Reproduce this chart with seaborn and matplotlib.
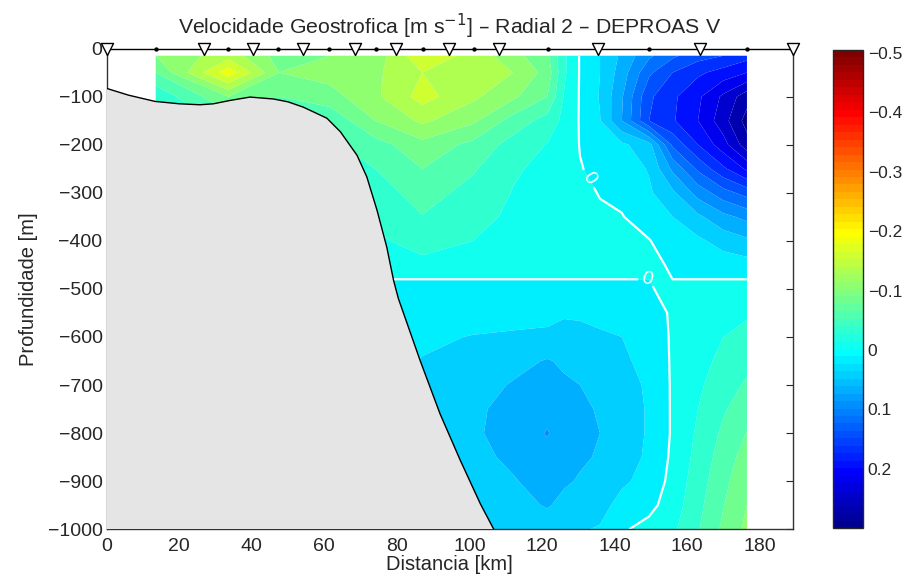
import numpy as np
import matplotlib
matplotlib.use("Agg")
import matplotlib.pyplot as plt
from matplotlib.colors import ListedColormap, Normalize
from matplotlib.cm import ScalarMappable
import seaborn as sns
import pandas as pd

sns.set_style("white")
plt.rcParams['font.family'] = ['Liberation Sans', 'DejaVu Sans']
plt.rcParams['axes.unicode_minus'] = True

# ---------------- data ----------------
stations_km = [0, 26.9, 40.2, 54.2, 68.5, 79.8, 94.3, 108.1, 135.3, 163.6, 189.2]
midpoints_km = [13.5, 33.5, 47.2, 61.4, 74.2, 87.1, 101.2, 121.7, 149.5, 176.4]

depths = [-15, -50, -100, -150, -200, -250, -300, -350, -400, -450, -480,
          -550, -600, -650, -700, -750, -800, -850, -900, -950, -1000]
grid_km = [13.5, 33.5, 47.5, 61.5, 74, 87, 101, 112, 121.5, 126, 130.5,
           136, 142, 149.5, 156, 163, 170, 176.5]

# velocity profiles (m/s) at each grid distance, ordered as `depths`
v_13_5 = [-0.10, -0.075, -0.03, -0.02, -0.02, -0.02, -0.02, -0.02, -0.02, -0.01, 0.0,
          0.01, 0.01, 0.01, 0.01, 0.01, 0.01, 0.01, 0.01, 0.01, 0.01]
v_33_5 = [-0.14, -0.19, -0.10, -0.06, -0.05, -0.04, -0.035, -0.03, -0.025, -0.012, 0.0,
          0.01, 0.01, 0.01, 0.01, 0.01, 0.01, 0.01, 0.01, 0.01, 0.01]
v_47_5 = [-0.09, -0.10, -0.075, -0.06, -0.05, -0.045, -0.04, -0.035, -0.028, -0.014, 0.0,
          0.01, 0.01, 0.01, 0.01, 0.01, 0.01, 0.01, 0.01, 0.01, 0.01]
v_61_5 = [-0.10, -0.11, -0.09, -0.055, -0.045, -0.04, -0.034, -0.028, -0.022, -0.011, 0.0,
          0.007, 0.009, 0.01, 0.01, 0.01, 0.01, 0.01, 0.01, 0.01, 0.01]
v_74 = [-0.11, -0.12, -0.12, -0.10, -0.065, -0.05, -0.038, -0.03, -0.021, -0.01, 0.0,
        0.007, 0.01, 0.012, 0.014, 0.015, 0.015, 0.015, 0.015, 0.015, 0.015]
v_87 = [-0.17, -0.15, -0.16, -0.13, -0.092, -0.075, -0.061, -0.049, -0.034, -0.019, 0.0,
        0.013, 0.021, 0.026, 0.029, 0.031, 0.032, 0.032, 0.031, 0.029, 0.027]
v_101 = [-0.14, -0.14, -0.13, -0.105, -0.068, -0.053, -0.041, -0.032, -0.025, -0.014, 0.0,
         0.015, 0.026, 0.033, 0.04, 0.046, 0.047, 0.043, 0.037, 0.033, 0.029]
v_112 = [-0.11, -0.125, -0.105, -0.065, -0.04, -0.028, -0.024, -0.021, -0.019, -0.012, 0.0,
         0.017, 0.028, 0.042, 0.052, 0.057, 0.058, 0.055, 0.048, 0.042, 0.037]
v_121_5 = [-0.08, -0.09, -0.075, -0.04, -0.024, -0.019, -0.017, -0.015, -0.014, -0.009, 0.0,
           0.018, 0.03, 0.052, 0.058, 0.066, 0.077, 0.066, 0.06, 0.052, 0.037]
v_126 = [-0.03, -0.03, -0.024, -0.019, -0.014, -0.012, -0.012, -0.011, -0.01, -0.007, 0.0,
         0.023, 0.031, 0.046, 0.054, 0.058, 0.059, 0.057, 0.053, 0.044, 0.032]
v_130_5 = [0.002, 0.002, 0.002, 0.002, 0.001, -0.001, -0.005, -0.008, -0.009, -0.007, 0.0,
           0.023, 0.029, 0.04, 0.05, 0.054, 0.055, 0.053, 0.048, 0.037, 0.027]
v_136 = [0.025, 0.025, 0.027, 0.024, 0.013, 0.005, 0.001, -0.003, -0.005, -0.004, 0.0,
         0.021, 0.027, 0.035, 0.043, 0.048, 0.05, 0.048, 0.043, 0.033, 0.023]
v_142 = [0.055, 0.062, 0.072, 0.075, 0.02, 0.011, 0.005, -0.001, -0.004, -0.005, 0.0,
         0.017, 0.025, 0.029, 0.033, 0.035, 0.035, 0.033, 0.029, 0.017, 0.003]
v_149_5 = [0.095, 0.12, 0.145, 0.15, 0.04, 0.027, 0.021, 0.011, -0.001, -0.004, 0.0,
           0.01, 0.015, 0.018, 0.022, 0.023, 0.023, 0.022, 0.017, 0.007, -0.008]
v_156 = [0.12, 0.15, 0.17, 0.172, 0.13, 0.08, 0.045, 0.025, 0.012, 0.002, 0.0,
         -0.003, -0.003, -0.003, -0.003, -0.003, -0.003, -0.005, -0.008, -0.012, -0.02]
v_163 = [0.14, 0.17, 0.195, 0.2, 0.175, 0.13, 0.085, 0.045, 0.02, 0.006, 0.0,
         -0.008, -0.012, -0.017, -0.021, -0.025, -0.029, -0.033, -0.038, -0.043, -0.048]
v_170 = [0.15, 0.185, 0.23, 0.24, 0.215, 0.17, 0.115, 0.068, 0.035, 0.012, 0.0,
         -0.017, -0.025, -0.031, -0.038, -0.047, -0.055, -0.062, -0.068, -0.074, -0.08]
v_176_5 = [0.165, 0.2, 0.265, 0.285, 0.265, 0.205, 0.135, 0.082, 0.045, 0.015, 0.0,
           -0.022, -0.032, -0.042, -0.054, -0.065, -0.076, -0.086, -0.094, -0.1, -0.106]

bathy_km = [0, 6, 13.3, 20, 25.7, 29.4, 34, 39.5, 46, 50, 54.2, 60.7, 64.4, 69, 71.7,
            74.5, 77.2, 79.1, 80.4, 86.4, 91.9, 97.5, 103, 106.7]
bathy_m = [-83, -97, -110, -115, -117, -115, -108, -101, -105, -111, -122, -145, -173,
           -222, -267, -336, -413, -483, -520, -649, -760, -857, -947, -1000]

cbar_ticks = [-0.5, -0.4, -0.3, -0.2, -0.1, 0, 0.1, 0.2]
x_ticks = [0, 20, 40, 60, 80, 100, 120, 140, 160, 180]
y_ticks = [0, -100, -200, -300, -400, -500, -600, -700, -800, -900, -1000]


# ---------------- colormap (MATLAB-style jet with 64 entries, reversed) ----------------
def matlab_jet(m=64):
    n = int(np.ceil(m / 4))
    u = np.concatenate([np.arange(1, n + 1) / n, np.ones(n - 1), np.arange(n, 0, -1) / n])
    g = int(np.ceil(n / 2)) - (1 if m % 4 == 1 else 0) + np.arange(1, len(u) + 1)
    r = g + n
    b = g - n
    J = np.zeros((m, 3))
    for idx, col in ((r, 0), (g, 1), (b, 2)):
        ok = (idx >= 1) & (idx <= m)
        J[idx[ok] - 1, col] = u[ok]
    return J


cmap = ListedColormap(matlab_jet(64)[::-1])
norm = Normalize(-0.505, 0.30)
levels = np.round(np.arange(-0.5, 0.3001, 0.025), 4)

# ---------------- plot ----------------
profiles = [v_13_5, v_33_5, v_47_5, v_61_5, v_74, v_87, v_101, v_112, v_121_5, v_126,
            v_130_5, v_136, v_142, v_149_5, v_156, v_163, v_170, v_176_5]
V = np.column_stack(profiles)
X, Z = np.meshgrid(grid_km, depths)

fig = plt.figure(figsize=(9.06, 5.81), dpi=100)
ax = fig.add_axes([0.1178, 0.089, 0.7575, 0.8275])

ax.contourf(X, Z, V, levels=levels, cmap=cmap, norm=norm, antialiased=True)
cs = ax.contour(X, Z, V, levels=[0], colors='white', linewidths=1.6)
ax.clabel(cs, fmt='%g', colors='white', fontsize=14, inline=True,
          manual=[(149, -480), (131.5, -278)])

# bathymetry
ax.fill(bathy_km + [0], bathy_m + [-1000], facecolor='#e5e5e5', edgecolor='none', zorder=3)
ax.plot(bathy_km, bathy_m, color='black', lw=1.0, zorder=4)

# stations
ax.plot([stations_km[0], stations_km[-1]], [0, 0], color='black', lw=1.0,
        zorder=5, clip_on=False)
st = pd.DataFrame({'km': stations_km, 'z': [0] * len(stations_km)})
mp = pd.DataFrame({'km': midpoints_km, 'z': [0] * len(midpoints_km)})
sns.scatterplot(data=st, x='km', y='z', marker='v', s=75, facecolor='white',
                edgecolor='black', linewidth=1.0, ax=ax, zorder=6, clip_on=False)
sns.scatterplot(data=mp, x='km', y='z', marker='o', s=8, color='black',
                edgecolor='black', ax=ax, zorder=6, clip_on=False)

ax.set_xlim(0, 189.2)
ax.set_ylim(-1000, 0)
ax.set_xticks(x_ticks)
ax.set_yticks(y_ticks)
ax.set_xticklabels([str(t) for t in x_ticks])
ax.set_yticklabels([str(t).replace('-', '\u2212') for t in y_ticks])
ax.tick_params(direction='in', top=False, right=True, length=5, labelsize=14,
               width=0.8, pad=3)
ax.tick_params(axis='x', pad=6)
for s in ax.spines.values():
    s.set_linewidth(1.0)
    s.set_color('#333333')
ax.spines['top'].set_visible(False)
ax.set_xlabel('Distancia [km]', fontsize=14.5, labelpad=0)
ax.set_ylabel('Profundidade [m]', fontsize=14.5, labelpad=7)
ax.set_title('Velocidade Geostrofica [m s$^{-1}$] \u2013 Radial 2 \u2013 DEPROAS V',
             fontsize=15.3, pad=10)

# colorbar
cax = fig.add_axes([0.9189, 0.0912, 0.0334, 0.8227])
sm = ScalarMappable(norm=norm, cmap=cmap)
cb = fig.colorbar(sm, cax=cax)
cax.invert_yaxis()
cb.set_ticks(cbar_ticks)
cb.set_ticklabels([('%g' % t).replace('-', '\u2212') for t in cbar_ticks])
cax.tick_params(direction='in', left=True, right=True, length=4, labelsize=12.5, width=0.8)
cb.outline.set_linewidth(1.0)

fig.savefig('out.png', dpi=100)
